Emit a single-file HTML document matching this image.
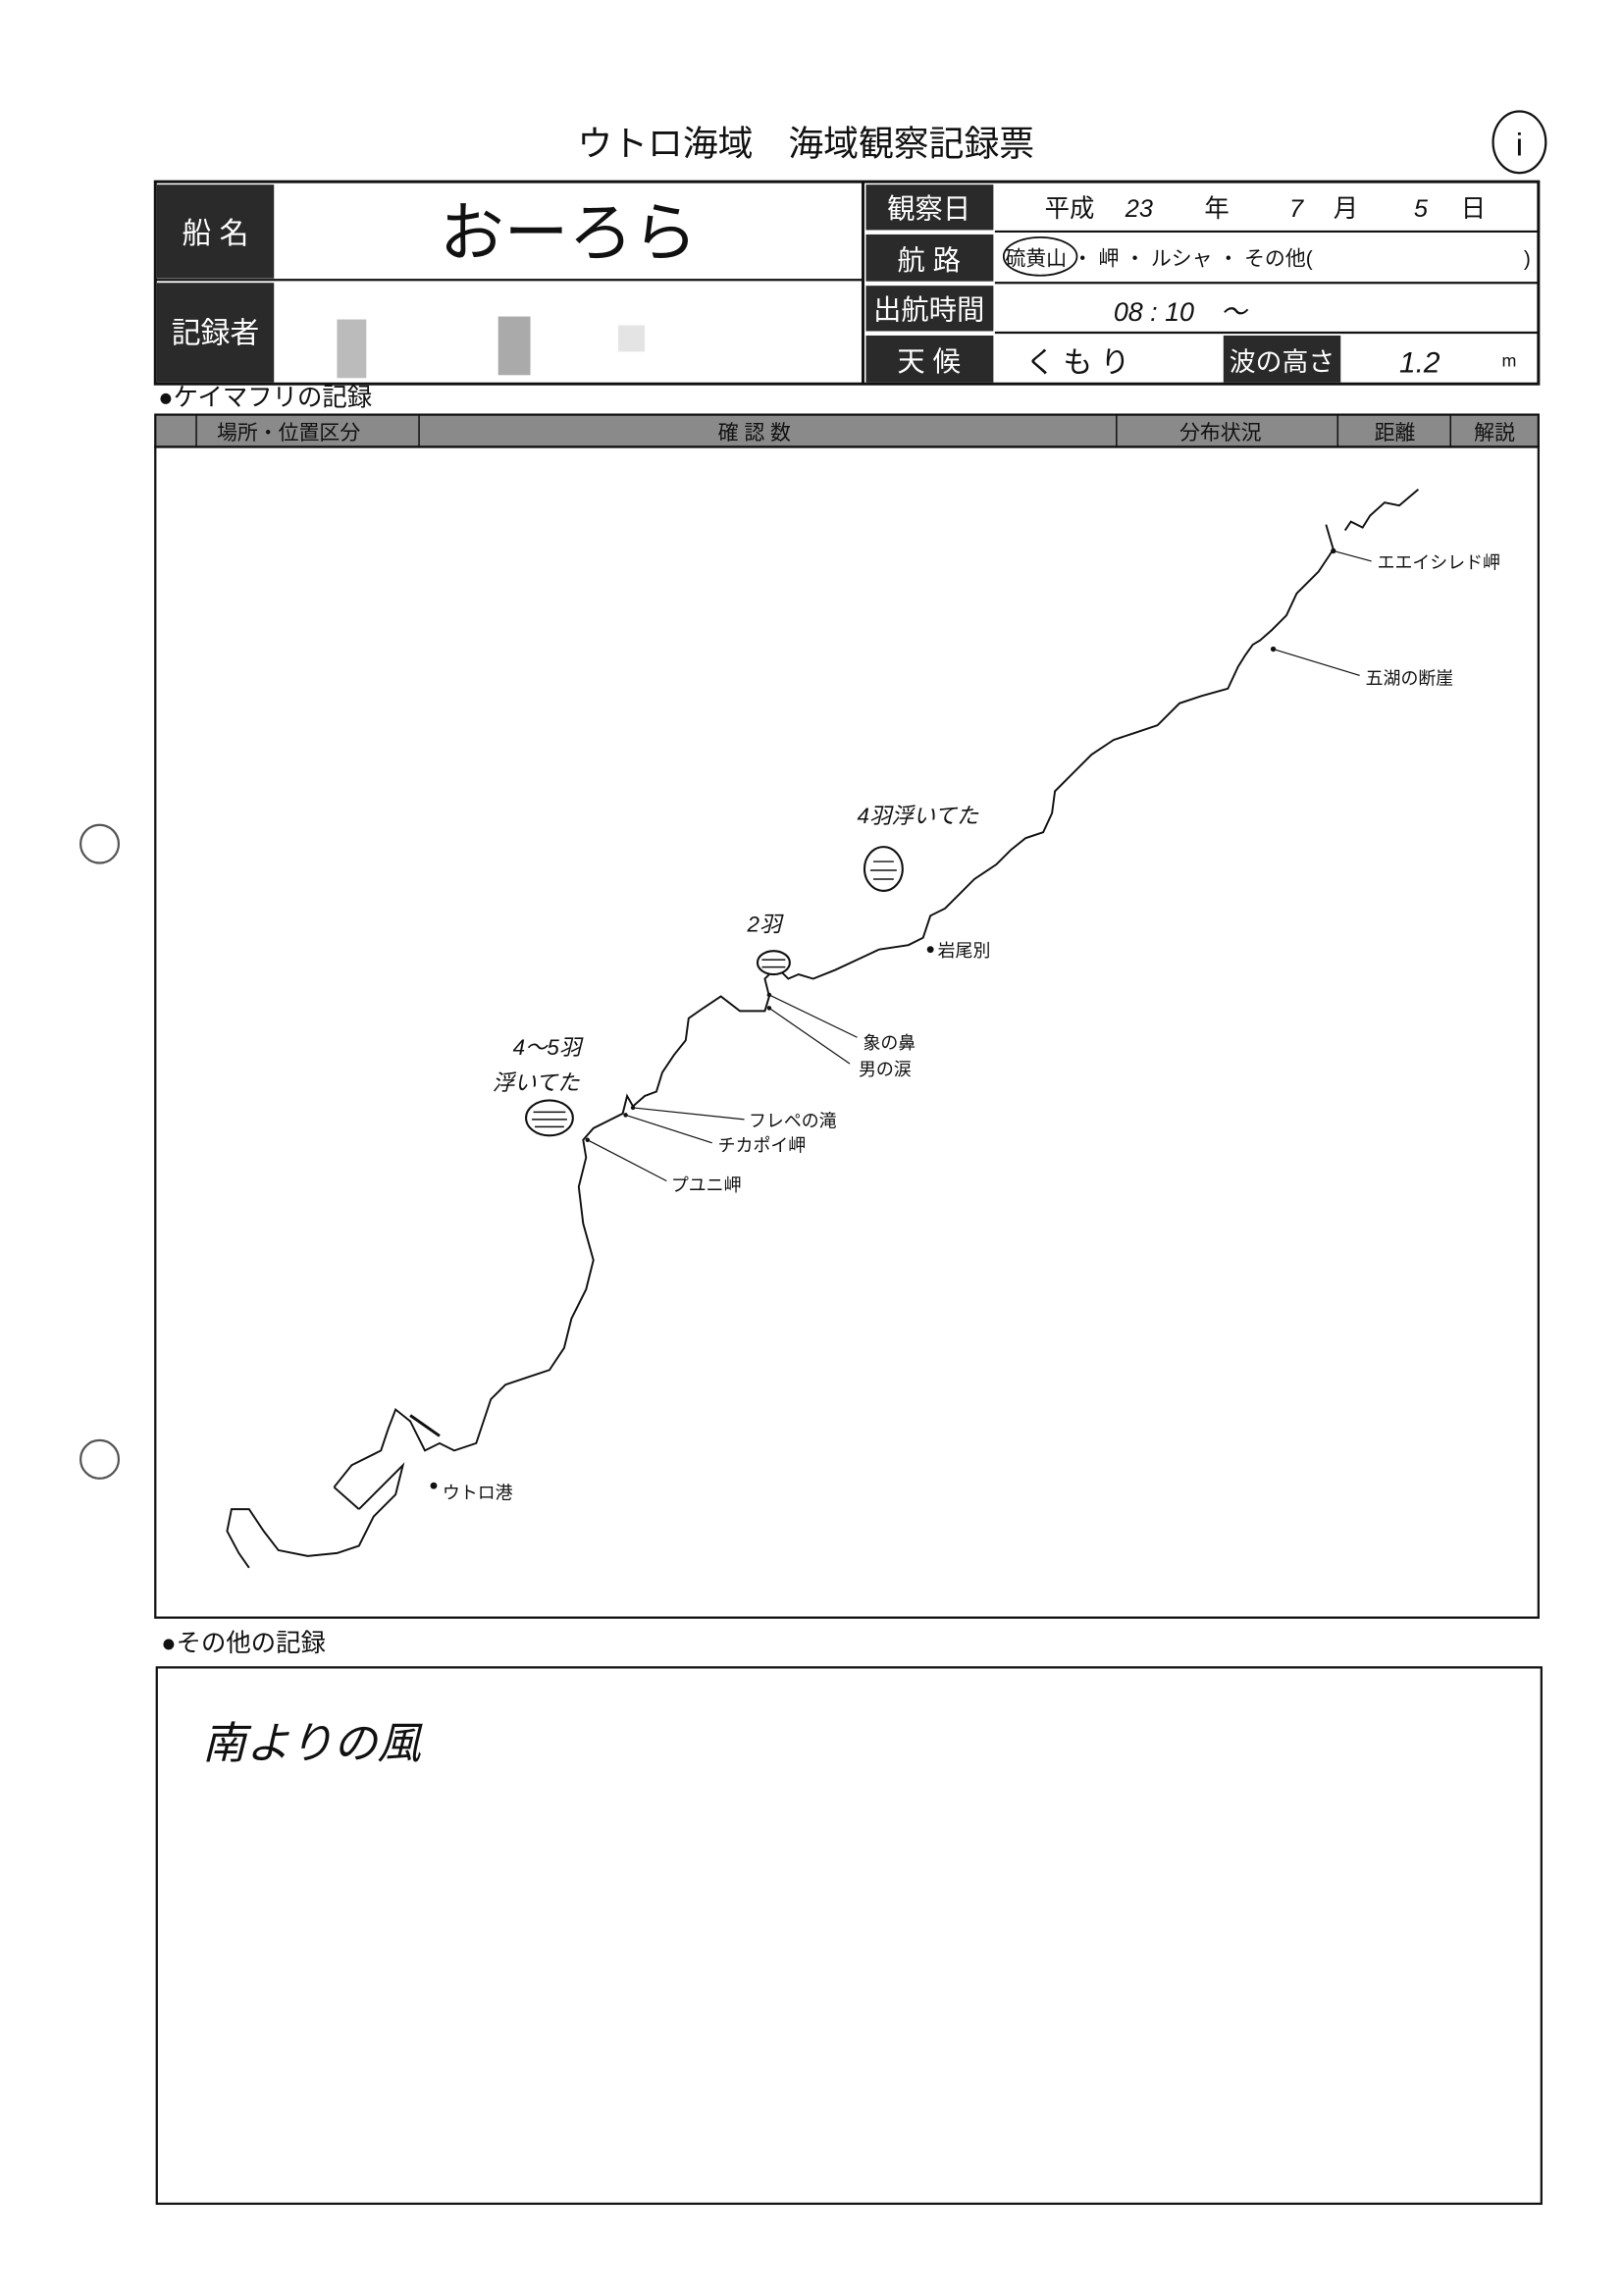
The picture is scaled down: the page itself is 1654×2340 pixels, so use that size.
<!DOCTYPE html>
<html><head><meta charset="utf-8"><style>
html,body{margin:0;padding:0;background:#fff;}
svg{display:block;}
text{font-family:"Liberation Sans","Noto Sans CJK JP",sans-serif;}
</style></head><body>
<svg width="1654" height="2340" viewBox="0 0 1107.7 1567" preserveAspectRatio="none" xmlns="http://www.w3.org/2000/svg">
<rect width="1110" height="1570" fill="#fff"/>
<text x="550" y="106" font-size="24" text-anchor="middle" fill="#111">ウトロ海域　海域観察記録票</text>
<ellipse cx="1037" cy="97" rx="18" ry="21" fill="none" stroke="#111" stroke-width="1.5"/>
<text x="1037" y="106" font-size="22" text-anchor="middle" fill="#111">i</text>
<rect x="106" y="124" width="944" height="138" fill="none" stroke="#111" stroke-width="2"/>
<line x1="106" y1="191" x2="589" y2="191" stroke="#111" stroke-width="1.5"/>
<line x1="589" y1="124" x2="589" y2="262" stroke="#111" stroke-width="2"/>
<line x1="679" y1="158" x2="1050" y2="158" stroke="#111" stroke-width="1.5"/>
<line x1="679" y1="193" x2="1050" y2="193" stroke="#111" stroke-width="1.5"/>
<line x1="679" y1="227" x2="1050" y2="227" stroke="#111" stroke-width="1.5"/>
<rect x="107" y="126" width="80" height="64" fill="#2a2a2a"/>
<rect x="107" y="193" width="80" height="68" fill="#2a2a2a"/>
<rect x="591" y="126" width="87" height="31" fill="#2a2a2a"/>
<rect x="591" y="160" width="87" height="32" fill="#2a2a2a"/>
<rect x="591" y="195" width="87" height="31" fill="#2a2a2a"/>
<rect x="591" y="229" width="87" height="32" fill="#2a2a2a"/>
<rect x="835" y="229" width="80" height="32" fill="#2a2a2a"/>
<text x="147" y="166" font-size="20" text-anchor="middle" fill="#fff">船 名</text>
<text x="147" y="234" font-size="20" text-anchor="middle" fill="#fff">記録者</text>
<text x="634" y="149" font-size="19" text-anchor="middle" fill="#fff">観察日</text>
<text x="634" y="184" font-size="19" text-anchor="middle" fill="#fff">航 路</text>
<text x="634" y="218" font-size="19" text-anchor="middle" fill="#fff">出航時間</text>
<text x="634" y="253" font-size="19" text-anchor="middle" fill="#fff">天 候</text>
<text x="875" y="253" font-size="18" text-anchor="middle" fill="#fff">波の高さ</text>
<text x="388" y="174" font-size="44" text-anchor="middle" fill="#111">おーろら</text>
<rect x="230" y="218" width="20" height="40" fill="#bbb"/><rect x="340" y="216" width="22" height="40" fill="#aaa"/><rect x="422" y="222" width="18" height="18" fill="#e4e4e4"/>
<text x="713" y="148" font-size="17" fill="#111">平成</text>
<text x="768" y="148" font-size="17" fill="#111" font-style="italic">23</text>
<text x="822" y="148" font-size="17" fill="#111">年</text>
<text x="880" y="148" font-size="17" fill="#111" font-style="italic">7</text>
<text x="910" y="148" font-size="17" fill="#111">月</text>
<text x="965" y="148" font-size="17" fill="#111" font-style="italic">5</text>
<text x="997" y="148" font-size="17" fill="#111">日</text>
<text x="686" y="181" font-size="14" fill="#111">硫黄山 ・ 岬 ・ ルシャ ・ その他(</text>
<text x="1040" y="181" font-size="14" fill="#111">)</text>
<ellipse cx="710" cy="175" rx="25" ry="13" fill="none" stroke="#111" stroke-width="1.2"/>
<text x="760" y="219" font-size="18" fill="#111" font-style="italic">08 : 10　～</text>
<text x="700" y="254" font-size="20" fill="#111">く も り</text>
<text x="955" y="254" font-size="20" fill="#111" font-style="italic">1.2</text>
<text x="1025" y="250" font-size="12" fill="#111">m</text>
<text x="108" y="277" font-size="17" fill="#111">●ケイマフリの記録</text>
<rect x="106" y="283" width="944" height="22" fill="#8a8a8a" stroke="#111" stroke-width="1.5"/>
<g stroke="#111" stroke-width="1"><line x1="134" y1="283" x2="134" y2="305"/><line x1="286" y1="283" x2="286" y2="305"/><line x1="762" y1="283" x2="762" y2="305"/><line x1="913" y1="283" x2="913" y2="305"/><line x1="990" y1="283" x2="990" y2="305"/></g>
<g font-size="14" fill="#111"><text x="148" y="300">場所・位置区分</text><text x="490" y="300">確 認 数</text><text x="805" y="300">分布状況</text><text x="938" y="300">距離</text><text x="1006" y="300">解説</text></g>
<rect x="106" y="305" width="944" height="799" fill="none" stroke="#111" stroke-width="1.5"/>
<polyline fill="none" stroke="#111" stroke-width="1.3" points="968,334 955,345 945,343 935,352 930,360 922,356 918,362"/>
<polyline fill="none" stroke="#111" stroke-width="1.3" points="905,358 910,375 900,390 885,405 878,420 868,430 860,437 855,440 850,447 845,455 838,470 820,475 805,480 790,495 775,500 760,505 745,515 730,530 720,540 718,555 712,568 700,572 690,580 680,590 665,600 655,610 645,620 635,625 630,640 620,645 600,648 585,655 570,662 555,668 545,665 538,668 530,660 522,668 525,680 522,690 505,690 492,680 480,688 470,695 468,710 460,720 452,732 448,745 440,748 432,755 428,748 425,760 415,765 405,770 398,778 400,790 395,810 398,835 405,860 400,880 390,900 385,920 375,935 360,940 345,945 335,955 330,970 325,985 310,990 300,985 290,990 280,970 270,962 265,975 260,990 240,1000 228,1015"/>
<polyline fill="none" stroke="#111" stroke-width="1.3" points="245,1030 265,1010 275,1000 270,1020 255,1035 245,1055 230,1060 210,1062 190,1058 180,1045 170,1030 158,1030 155,1045 163,1060 170,1070"/>
<line x1="228" y1="1015" x2="245" y2="1030" stroke="#111" stroke-width="1.3"/>
<line x1="280" y1="966" x2="300" y2="980" stroke="#111" stroke-width="2"/>
<g fill="#fff" stroke="#111" stroke-width="1.4">
<ellipse cx="603" cy="593" rx="13" ry="15"/><ellipse cx="528" cy="657" rx="11" ry="8"/><ellipse cx="375" cy="763" rx="16" ry="12"/></g>
<g stroke="#111" stroke-width="1"><line x1="596" y1="588" x2="610" y2="588"/><line x1="594" y1="594" x2="612" y2="594"/><line x1="596" y1="600" x2="610" y2="600"/><line x1="520" y1="655" x2="536" y2="655"/><line x1="520" y1="660" x2="536" y2="660"/><line x1="364" y1="759" x2="386" y2="759"/><line x1="363" y1="764" x2="387" y2="764"/><line x1="365" y1="769" x2="385" y2="769"/></g>
<g font-size="15" fill="#111" font-style="italic"><text x="585" y="562">4羽浮いてた</text><text x="510" y="636">2羽</text><text x="350" y="720">4～5羽</text><text x="336" y="744">浮いてた</text></g>
<g stroke="#111" stroke-width="0.8"><line x1="910" y1="376" x2="936" y2="383"/><line x1="869" y1="443" x2="928" y2="461"/><line x1="525" y1="679" x2="585" y2="708"/><line x1="525" y1="688" x2="580" y2="726"/><line x1="432" y1="756" x2="508" y2="764"/><line x1="427" y1="761" x2="486" y2="780"/><line x1="401" y1="778" x2="455" y2="806"/></g>
<g fill="#111"><circle cx="910" cy="376" r="1.8"/><circle cx="869" cy="443" r="1.8"/><circle cx="635" cy="648" r="2.3"/><circle cx="296" cy="1014" r="2.3"/><circle cx="525" cy="679" r="1.5"/><circle cx="525" cy="688" r="1.5"/><circle cx="432" cy="756" r="1.5"/><circle cx="427" cy="761" r="1.5"/><circle cx="401" cy="778" r="1.5"/></g>
<g font-size="12" fill="#111"><text x="940" y="388">エエイシレド岬</text><text x="932" y="467">五湖の断崖</text><text x="640" y="653">岩尾別</text><text x="589" y="716">象の鼻</text><text x="586" y="734">男の涙</text><text x="511" y="769">フレペの滝</text><text x="490" y="786">チカポイ岬</text><text x="458" y="813">プユニ岬</text><text x="302" y="1023">ウトロ港</text></g>
<text x="110" y="1127" font-size="17" fill="#111">●その他の記録</text>
<rect x="107" y="1138" width="945" height="366" fill="none" stroke="#111" stroke-width="1.5"/>
<text x="138" y="1200" font-size="30" fill="#111" font-style="italic">南よりの風</text>
<circle cx="68" cy="576" r="13" fill="none" stroke="#555" stroke-width="1.5"/>
<circle cx="68" cy="996" r="13" fill="none" stroke="#555" stroke-width="1.5"/>
</svg>
</body></html>
